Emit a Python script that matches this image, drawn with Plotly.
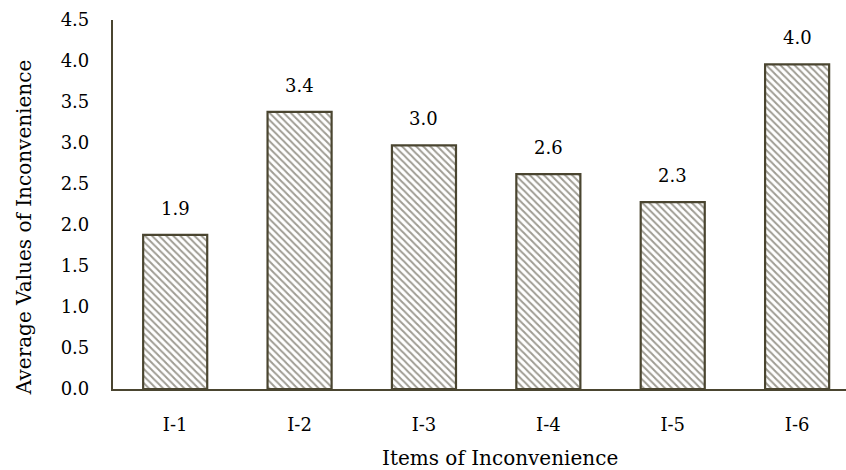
import plotly.graph_objects as go

categories = ["I-1", "I-2", "I-3", "I-4", "I-5", "I-6"]
values = [1.88, 3.38, 2.97, 2.62, 2.28, 3.96]
y_ticks = [0.0, 0.5, 1.0, 1.5, 2.0, 2.5, 3.0, 3.5, 4.0, 4.5]

FONT = "DejaVu Serif"
DARK = "#4a4530"
FS = 18

fig = go.Figure(go.Bar(
    x=categories,
    y=values,
    width=0.515,
    marker=dict(
        color="white",
        line=dict(color=DARK, width=2.2),
        pattern=dict(shape="\\", fgcolor="#3f3a28", bgcolor="white", size=5, solidity=0.4),
    ),
))

for c, v in zip(categories, values):
    fig.add_annotation(
        x=c, y=v, text=f"{v:.1f}", showarrow=False,
        yanchor="bottom", yshift=14,
        font=dict(family=FONT, size=FS, color="#000"),
    )

# axis titles
fig.add_annotation(
    text="Items of Inconvenience", xref="paper", yref="paper",
    x=0.528, y=-0.187, xanchor="center", yanchor="middle", showarrow=False,
    font=dict(family=FONT, size=20, color="#000"),
)
fig.add_annotation(
    text="Average Values of Inconvenience", xref="paper", yref="paper",
    x=-0.1214, y=0.436, xanchor="center", yanchor="middle", showarrow=False,
    textangle=-90,
    font=dict(family=FONT, size=20, color="#000"),
)

fig.update_layout(
    width=846, height=470,
    margin=dict(l=113, r=0, t=20, b=81),
    plot_bgcolor="white", paper_bgcolor="white",
    font=dict(family=FONT, size=FS, color="#000"),
    showlegend=False,
)
fig.update_xaxes(
    range=[-0.5, 5.393],
    automargin=False,
    showline=True, linecolor=DARK, linewidth=2.2,
    ticks="", showgrid=False,
    tickfont=dict(family=FONT, size=FS),
    ticklabelstandoff=18,
)
fig.update_yaxes(
    range=[0, 4.5],
    automargin=False,
    tickvals=y_ticks,
    ticktext=[f"{t:.1f}" for t in y_ticks],
    showline=True, linecolor=DARK, linewidth=2.2,
    ticks="", showgrid=False, zeroline=False,
    tickfont=dict(family=FONT, size=FS),
    ticklabelstandoff=18,
)

fig.write_html(
    "out.html",
    config={"displayModeBar": False},
    post_script="document.body.style.margin='0';document.body.style.overflow='hidden';",
)
